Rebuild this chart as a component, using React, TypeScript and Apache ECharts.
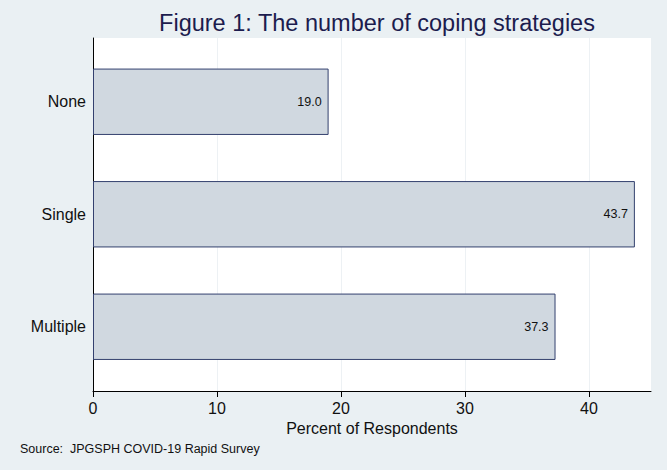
import React, { useEffect, useRef } from "react";
import * as echarts from "echarts";

const categories = ["None", "Single", "Multiple"];
const values = [19.0, 43.7, 37.3];
const xTicks = [0, 10, 20, 30, 40];

const FONT = "Liberation Sans, Arial, sans-serif";

export default function App() {
  const ref = useRef<HTMLDivElement>(null);
  useEffect(() => {
    if (!ref.current) return;
    const chart = echarts.init(ref.current, undefined, { renderer: "svg" });
    chart.setOption({
      animation: false,
      backgroundColor: "#eaf0f3",
      title: {
        text: "Figure 1: The number of coping strategies",
        left: 372,
        textAlign: "center",
        top: 6,
        textStyle: {
          fontFamily: FONT,
          fontSize: 23.5,
          fontWeight: "normal",
          color: "#1c1c4e",
        },
      },
      graphic: [
        {
          type: "text",
          left: 20,
          top: 442,
          style: {
            text: "Source:  JPGSPH COVID-19 Rapid Survey",
            fontFamily: FONT,
            fontSize: 12.5,
            fill: "#111",
          },
        },
      ],
      grid: [
        {
          left: 93,
          right: 16,
          top: 38,
          bottom: 79,
          show: true,
          backgroundColor: "#ffffff",
          borderWidth: 0,
        },
        {
          left: 93,
          right: 16,
          top: 45.5,
          bottom: 87,
          show: false,
        },
      ],
      xAxis: [
        {
          gridIndex: 0,
          type: "value",
          min: 0,
          max: 45,
          interval: 10,
          name: "Percent of Respondents",
          nameLocation: "middle",
          nameGap: 28,
          nameTextStyle: { fontFamily: FONT, fontSize: 16, color: "#111" },
          axisLine: { show: true, lineStyle: { color: "#000", width: 1 } },
          axisTick: {
            show: true,
            length: 6,
            customValues: xTicks,
            lineStyle: { color: "#000" },
          },
          axisLabel: {
            fontFamily: FONT,
            fontSize: 16,
            color: "#111",
            margin: 9,
            customValues: xTicks,
          },
          splitLine: { show: true, lineStyle: { color: "#edf1f4", width: 1 } },
        },
        {
          gridIndex: 1,
          type: "value",
          min: 0,
          max: 45,
          show: false,
        },
      ],
      yAxis: [
        {
          gridIndex: 0,
          type: "value",
          min: 0,
          max: 1,
          axisLine: { show: true, lineStyle: { color: "#000", width: 1 } },
          axisTick: { show: false },
          axisLabel: { show: false },
          splitLine: { show: false },
        },
        {
          gridIndex: 1,
          type: "category",
          data: categories,
          inverse: true,
          axisLine: { show: false },
          axisTick: { show: false },
          axisLabel: {
            fontFamily: FONT,
            fontSize: 16,
            color: "#111",
            margin: 7,
          },
          splitLine: { show: false },
        },
      ],
      series: [
        {
          type: "bar",
          xAxisIndex: 1,
          yAxisIndex: 1,
          data: values,
          barCategoryGap: "41%",
          itemStyle: {
            color: "#d0d8e0",
            borderColor: "#33406e",
            borderWidth: 1,
          },
          label: {
            show: true,
            position: "insideRight",
            distance: 7,
            formatter: (p: any) => Number(p.value).toFixed(1),
            fontFamily: FONT,
            fontSize: 12.5,
            color: "#111",
          },
        },
      ],
    });
    return () => chart.dispose();
  }, []);
  return (
    <div
      ref={ref}
      style={{ position: "fixed", left: 0, top: 0, width: 667, height: 470 }}
    />
  );
}
